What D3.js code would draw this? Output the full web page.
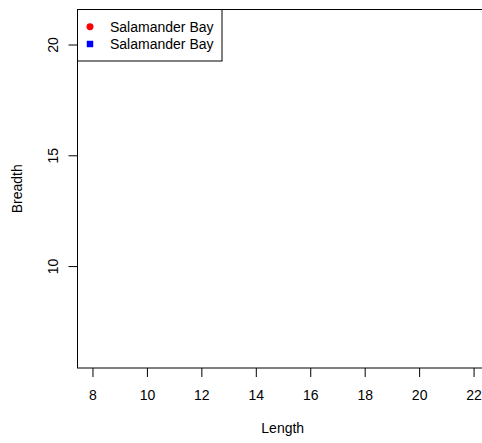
<!DOCTYPE html>
<html>
<head>
<meta charset="utf-8">
<script src="https://cdn.jsdelivr.net/npm/d3@7"></script>
<style>
  body { margin: 0; background: #fff; }
  text { font-family: "Liberation Sans", Arial, sans-serif; }
</style>
</head>
<body>
<script>
width = 482
height = 443
margin = ({top: 9.5, right: -6, bottom: 75, left: 77.5})

// series shown in the legend (no points are plotted in the reference)
seriesNames = ["Salamander Bay", "Salamander Bay"]
seriesColors = ["#ff0000", "#0000ff"]
seriesShapes = ["circle", "square"]
lengthA = []
breadthA = []
lengthB = []
breadthB = []

xTicks = [8, 10, 12, 14, 16, 18, 20, 22]
yTicks = [10, 15, 20]
xDomain = [7.45, 22.53]
yDomain = [5.4, 21.58]

series = [
  {name: seriesNames[0], color: seriesColors[0], shape: seriesShapes[0],
   pts: lengthA.map((d, i) => ({x: d, y: breadthA[i]}))},
  {name: seriesNames[1], color: seriesColors[1], shape: seriesShapes[1],
   pts: lengthB.map((d, i) => ({x: d, y: breadthB[i]}))}
]

x = d3.scaleLinear()
  .domain(xDomain)
  .range([margin.left, width - margin.right])

y = d3.scaleLinear()
  .domain(yDomain)
  .range([height - margin.bottom, margin.top])

const svg = d3.select("body").append("svg")
  .attr("width", width)
  .attr("height", height)

svg.append("g")
  .attr("transform", `translate(0,${height - margin.bottom})`)
  .call(d3.axisBottom(x).tickValues(xTicks).tickSize(9).tickPadding(13).tickFormat(d3.format("d")))
  .call(g => g.select(".domain").remove())
  .call(g => g.selectAll("text").attr("font-size", 14).attr("fill", "#000"))

svg.append("g")
  .attr("transform", `translate(${margin.left},0)`)
  .call(d3.axisLeft(y).tickValues(yTicks).tickSize(9).tickFormat(d3.format("d")))
  .call(g => g.select(".domain").remove())
  .call(g => g.selectAll(".tick text")
    .attr("font-size", 14)
    .attr("fill", "#000")
    .attr("text-anchor", "middle")
    .attr("dy", 0)
    .attr("x", 0)
    .attr("transform", "translate(-20,0) rotate(-90)"))

// plot box
svg.append("rect")
  .attr("x", margin.left)
  .attr("y", margin.top)
  .attr("width", width - margin.right - margin.left)
  .attr("height", height - margin.bottom - margin.top)
  .attr("fill", "none")
  .attr("stroke", "#000")

svg.selectAll("g.series")
  .data(series)
  .join("g")
  .attr("fill", d => d.color)
  .selectAll("path")
  .data(d => d.pts.map(p => ({...p, shape: d.shape})))
  .join("path")
  .attr("transform", d => `translate(${x(d.x)},${y(d.y)})`)
  .attr("d", d => d3.symbol(d.shape === "circle" ? d3.symbolCircle : d3.symbolSquare, 40)())

svg.append("text")
  .attr("x", (margin.left + width - margin.right) / 2)
  .attr("y", 433)
  .attr("text-anchor", "middle")
  .attr("font-size", 14)
  .text("Length")

svg.append("text")
  .attr("transform", `translate(22,${(margin.top + height - margin.bottom) / 2}) rotate(-90)`)
  .attr("text-anchor", "middle")
  .attr("font-size", 14)
  .text("Breadth")

// legend
const legend = svg.append("g")
  .attr("transform", `translate(${margin.left},${margin.top})`)

legend.append("rect")
  .attr("width", 144.5)
  .attr("height", 51.5)
  .attr("fill", "#fff")
  .attr("stroke", "#000")

const item = legend.selectAll("g")
  .data(series)
  .join("g")
  .attr("transform", (d, i) => `translate(0,${17.2 + i * 17.3})`)

item.append("path")
  .attr("transform", "translate(12.5,0)")
  .attr("fill", d => d.color)
  .attr("d", d => d3.symbol(d.shape === "circle" ? d3.symbolCircle : d3.symbolSquare, d.shape === "circle" ? 38 : 42)())

item.append("text")
  .attr("x", 32.5)
  .attr("dy", "0.35em")
  .attr("font-size", 14)
  .text(d => d.name)
</script>
</body>
</html>
